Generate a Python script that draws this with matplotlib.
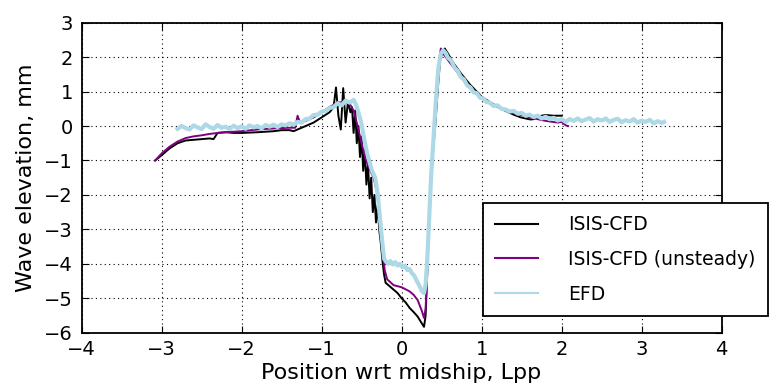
import matplotlib
matplotlib.use("Agg")
import matplotlib.pyplot as plt

# ISIS-CFD (steady)
cfd_x = [-3.08, -3.0, -2.9, -2.8, -2.7, -2.6, -2.5, -2.4, -2.35, -2.3, -2.2, -2.1, -2.0, -1.8, -1.6,
         -1.5, -1.4, -1.35, -1.3, -1.2, -1.1, -1.0, -0.9, -0.85, -0.82, -0.79, -0.76, -0.73, -0.70,
         -0.67, -0.64, -0.62, -0.60, -0.58, -0.56, -0.54, -0.52, -0.50, -0.48, -0.46, -0.44, -0.42,
         -0.40, -0.38, -0.36, -0.34, -0.32, -0.30, -0.28, -0.26, -0.24, -0.22, -0.20, -0.15, -0.10,
         -0.05, 0.0, 0.05, 0.1, 0.15, 0.2, 0.25, 0.28, 0.30, 0.32, 0.34, 0.37, 0.40, 0.42, 0.45,
         0.48, 0.51, 0.54, 0.58, 0.65, 0.75, 0.86, 1.0, 1.1, 1.2, 1.28, 1.4, 1.49, 1.61, 1.65, 1.7,
         1.8, 1.9, 2.0]
cfd_y = [-1.0, -0.85, -0.65, -0.5, -0.42, -0.40, -0.38, -0.36, -0.38, -0.2, -0.18, -0.2, -0.2, -0.18, -0.15,
         -0.12, -0.12, -0.15, -0.1, 0.0, 0.1, 0.25, 0.4, 0.55, 1.12, 0.3, -0.1, 1.1, 0.1,
         0.7, 0.4, 0.55, -0.2, 0.45, -0.5, 0.0, -0.9, -0.3, -1.3, -0.7, -1.7, -1.1,
         -2.1, -1.5, -2.5, -2.0, -2.8, -2.3, -3.0, -3.4, -3.9, -4.3, -4.55, -4.65, -4.75,
         -4.85, -5.0, -5.12, -5.28, -5.4, -5.53, -5.72, -5.83, -5.5, -4.3, -3.0, -1.5, -0.5, 0.0, 1.0,
         1.9, 2.15, 2.25, 2.1, 1.82, 1.5, 1.19, 0.85, 0.7, 0.56, 0.46, 0.33, 0.25, 0.19, 0.2, 0.28,
         0.32, 0.3, 0.3]

# ISIS-CFD (unsteady)
uns_x = [-3.08, -3.0, -2.9, -2.8, -2.7, -2.6, -2.5, -2.4, -2.3, -2.2, -2.0, -1.8, -1.6, -1.4, -1.33,
         -1.3, -1.27, -1.2, -1.1, -1.0, -0.9, -0.8, -0.7, -0.65, -0.6, -0.55, -0.5, -0.45, -0.4,
         -0.35, -0.3, -0.27, -0.24, -0.21, -0.18, -0.1, 0.0, 0.1, 0.15, 0.2, 0.25, 0.28, 0.30,
         0.32, 0.34, 0.37, 0.40, 0.43, 0.46, 0.49, 0.52, 0.6, 0.7, 0.8, 0.9, 1.0, 1.2, 1.4, 1.6, 1.8,
         1.95, 2.0, 2.05, 2.08]
uns_y = [-1.0, -0.8, -0.6, -0.45, -0.35, -0.3, -0.27, -0.23, -0.2, -0.18, -0.15, -0.1, -0.07, -0.05, -0.05,
         0.3, 0.1, 0.15, 0.25, 0.4, 0.55, 0.68, 0.7, 0.65, 0.45, 0.0, -0.5, -0.95, -1.25,
         -1.5, -2.0, -2.7, -3.6, -4.2, -4.45, -4.62, -4.68, -4.8, -4.9, -5.05, -5.35, -5.57, -5.3,
         -4.2, -3.0, -1.5, -0.3, 0.8, 1.7, 2.25, 2.1, 1.85, 1.55, 1.25, 1.0, 0.82, 0.55, 0.38, 0.25, 0.15,
         0.1, 0.12, 0.02, 0.0]

# EFD
efd_x = [-2.80, -2.75, -2.70, -2.65, -2.60, -2.55, -2.50, -2.45, -2.40, -2.35, -2.30, -2.25, -2.20,
         -2.15, -2.10, -2.05, -2.00, -1.95, -1.90, -1.85, -1.80, -1.75, -1.70, -1.65, -1.60, -1.55,
         -1.50, -1.45, -1.40, -1.35, -1.30, -1.25, -1.20, -1.15, -1.10, -1.05, -1.00, -0.95, -0.90,
         -0.85, -0.80, -0.75, -0.70, -0.65, -0.60, -0.57, -0.54, -0.50, -0.47, -0.43, -0.40, -0.37,
         -0.33, -0.30, -0.28, -0.26, -0.24, -0.22, -0.20, -0.17, -0.14, -0.11, -0.08, -0.05, -0.02,
         0.01, 0.04, 0.07, 0.10, 0.13, 0.16, 0.19, 0.22, 0.25, 0.28, 0.30, 0.32, 0.34, 0.37, 0.40,
         0.43, 0.46, 0.49, 0.52, 0.55, 0.58, 0.62, 0.66, 0.70, 0.74, 0.78, 0.82, 0.86, 0.90, 0.94, 0.98,
         1.02, 1.06, 1.10, 1.15, 1.20, 1.25, 1.30, 1.35, 1.40, 1.45, 1.50, 1.55, 1.60, 1.65, 1.70,
         1.75, 1.80, 1.85, 1.90, 1.95, 2.00, 2.05, 2.10, 2.15, 2.20, 2.25, 2.30, 2.35, 2.40, 2.45,
         2.50, 2.55, 2.60, 2.65, 2.70, 2.75, 2.80, 2.85, 2.90, 2.95, 3.00, 3.05, 3.10, 3.15, 3.20,
         3.25, 3.28]
efd_y = [-0.08, 0.00, -0.06, -0.10, 0.02, -0.04, -0.09, 0.05, -0.03, -0.08, 0.03, -0.05, -0.02,
         -0.09, 0.01, -0.06, -0.01, -0.08, 0.02, -0.04, 0.00, -0.07, 0.03, -0.02, 0.04, -0.03,
         0.05, 0.02, 0.08, 0.04, 0.12, 0.10, 0.20, 0.22, 0.32, 0.33, 0.42, 0.44, 0.52,
         0.55, 0.66, 0.60, 0.74, 0.68, 0.76, 0.62, 0.40, 0.05, -0.35, -0.80, -1.05, -1.30,
         -1.50, -1.95, -2.45, -2.95, -3.40, -3.85, -3.92, -4.00, -3.92, -4.02, -3.95, -4.05, -4.00,
         -4.10, -4.05, -4.18, -4.15, -4.28, -4.35, -4.50, -4.62, -4.78, -4.85, -4.60, -3.90, -2.90, -1.40, -0.30,
         0.80, 1.70, 2.10, 2.20, 2.12, 1.98, 1.90, 1.70, 1.60, 1.42, 1.35, 1.18, 1.12, 0.98, 0.95, 0.82,
         0.80, 0.70, 0.68, 0.58, 0.60, 0.50, 0.48, 0.42, 0.44, 0.36, 0.38, 0.30, 0.33, 0.26, 0.30,
         0.22, 0.27, 0.20, 0.24, 0.16, 0.20, 0.12, 0.20, 0.15, 0.22, 0.14, 0.19, 0.23, 0.13, 0.20,
         0.16, 0.22, 0.12, 0.18, 0.21, 0.11, 0.17, 0.13, 0.20, 0.10, 0.16, 0.12, 0.18, 0.08, 0.14,
         0.09, 0.12]

labels = ["ISIS-CFD", "ISIS-CFD (unsteady)", "EFD"]
x_ticks = [-4, -3, -2, -1, 0, 1, 2, 3, 4]
y_ticks = [-6, -5, -4, -3, -2, -1, 0, 1, 2, 3]

plt.rcParams['font.family'] = ['DejaVu Sans']
fig = plt.figure(figsize=(7.69, 3.88), dpi=100)
ax = fig.add_axes([0.106, 0.1425, 0.8325, 0.799])

l1, = ax.plot(cfd_x, cfd_y, color='black', lw=1.4, label=labels[0])
l2, = ax.plot(uns_x, uns_y, color='purple', lw=1.4, label=labels[1])
l3, = ax.plot(efd_x, efd_y, color='lightblue', lw=3.0, label=labels[2])

ax.set_xlim(-4, 4)
ax.set_ylim(-6, 3)
ax.set_xticks(x_ticks)
ax.set_yticks(y_ticks)
ax.grid(True, color='black', linestyle=(0, (1, 3)), linewidth=0.8)
ax.tick_params(direction='in', top=True, right=True, length=5, width=0.8, labelsize=14)
ax.tick_params(axis='y', pad=6)
ax.tick_params(axis='x', pad=5)
for s in ax.spines.values():
    s.set_linewidth(1.3)
ax.set_xlabel("Position wrt midship, Lpp", fontsize=16, labelpad=3)
ax.set_ylabel("Wave elevation, mm", fontsize=16, labelpad=6)

leg = fig.legend(handles=[l1, l2, l3], loc='upper left', bbox_to_anchor=(0.628, 0.477),
                 bbox_transform=fig.transFigure, fontsize=13.5, fancybox=False, framealpha=1,
                 edgecolor='black', handlelength=2.3, handletextpad=1.6, labelspacing=0.85,
                 borderpad=0.65, borderaxespad=0)
leg.get_frame().set_linewidth(1.3)
for h in leg.legend_handles:
    h.set_linewidth(1.5)
# shift legend content slightly right (handles start further in from the frame)
leg._legend_box.set_offset  # keep default packing

fig.savefig("out.png", dpi=100)
